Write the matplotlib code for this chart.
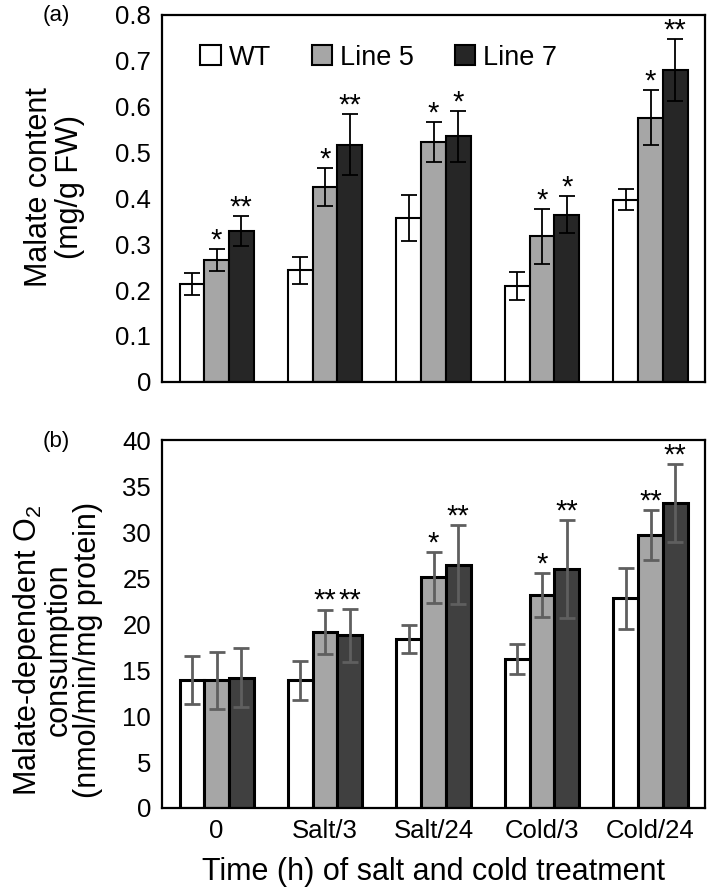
import numpy as np
from matplotlib import pyplot as plt

plt.rcParams['font.family'] = ['Liberation Sans', 'DejaVu Sans']
plt.rcParams['mathtext.fontset'] = 'custom'
plt.rcParams['mathtext.rm'] = 'Liberation Sans'
plt.rcParams['mathtext.default'] = 'regular'

groups = ['0', 'Salt/3', 'Salt/24', 'Cold/3', 'Cold/24']
lines = ['WT', 'Line 5', 'Line 7']

# (a) malate content, mg/g FW
malate = {
    'WT':     [0.214, 0.243, 0.357, 0.209, 0.397],
    'Line 5': [0.265, 0.424, 0.522, 0.317, 0.575],
    'Line 7': [0.329, 0.517, 0.535, 0.364, 0.679],
}
malate_err = {
    'WT':     [0.024, 0.030, 0.050, 0.030, 0.023],
    'Line 5': [0.024, 0.041, 0.044, 0.060, 0.060],
    'Line 7': [0.033, 0.067, 0.055, 0.040, 0.067],
}
malate_sig = {
    'WT':     ['', '', '', '', ''],
    'Line 5': ['*', '*', '*', '*', '*'],
    'Line 7': ['**', '**', '*', '*', '**'],
}

# (b) malate-dependent O2 consumption
oxy = {
    'WT':     [13.9, 13.9, 18.4, 16.2, 22.8],
    'Line 5': [13.9, 19.2, 25.1, 23.2, 29.7],
    'Line 7': [14.2, 18.8, 26.5, 26.0, 33.2],
}
oxy_err = {
    'WT':     [2.6, 2.1, 1.5, 1.6, 3.3],
    'Line 5': [3.1, 2.4, 2.8, 2.4, 2.7],
    'Line 7': [3.2, 2.9, 4.3, 5.3, 4.2],
}
oxy_sig = {
    'WT':     ['', '', '', '', ''],
    'Line 5': ['', '**', '*', '*', '**'],
    'Line 7': ['', '**', '**', '**', '**'],
}

fig = plt.figure(figsize=(7.09, 8.92), dpi=100)
axA = fig.add_axes([0.229, 0.572, 0.765, 0.4115])
axB = fig.add_axes([0.229, 0.0942, 0.765, 0.412])

x = np.arange(len(groups))
w = 0.228


def panel(ax, vals, errs, sigs, colors, ecolor, elw, edgelw, ymax, step, off):
    for i, name in enumerate(lines):
        pos = x + (i - 1)*w
        ax.bar(pos, vals[name], w, color=colors[i], edgecolor='black',
               linewidth=edgelw, label=name, zorder=2)
        ax.errorbar(pos, vals[name], yerr=errs[name], fmt='none',
                    ecolor=ecolor, elinewidth=elw, capsize=6, capthick=elw,
                    zorder=3)
        for p, v, e, s in zip(pos, vals[name], errs[name], sigs[name]):
            if s:
                ax.text(p, v + e + off, s, ha='center', va='bottom',
                        fontsize=21)
    ax.set_xlim(-0.5, len(groups) - 0.5)
    ax.set_ylim(0, ymax)
    ax.set_yticks(np.arange(0, ymax + step/2, step))
    ax.tick_params(length=0, labelsize=18.5, pad=8)
    for sp in ax.spines.values():
        sp.set_linewidth(1.6)


panel(axA, malate, malate_err, malate_sig,
      ['white', '#a6a6a6', '#262626'], 'black', 1.3, 1.5, 0.8, 0.1, -0.012)
axA.set_yticklabels(['0'] + ['%.1f' % v for v in np.arange(0.1, 0.85, 0.1)])
axA.set_xticks([])
axA.set_ylabel('Malate content\n(mg/g FW)', fontsize=22, linespacing=1.05)
axA.yaxis.set_label_coords(-0.142, 0.53)
axA.legend(loc='upper left', bbox_to_anchor=(0.025, 0.985), ncol=3,
           frameon=False, fontsize=19.5, handlelength=0.75, handleheight=0.75,
           handletextpad=0.3, columnspacing=1.5)
fig.text(0.06, 0.983, '(a)', fontsize=16, ha='left', va='center')

panel(axB, oxy, oxy_err, oxy_sig,
      ['white', '#a6a6a6', '#404040'], '#5f5f5f', 2.0, 2.2, 40, 5, -0.6)
axB.set_xticks(x)
axB.set_xticklabels(groups)
axB.set_ylabel('Malate-dependent O$_2$\nconsumption\n(nmol/min/mg protein)',
               fontsize=22, linespacing=0.95)
axB.yaxis.set_label_coords(-0.11, 0.43)
axB.set_xlabel('Time (h) of salt and cold treatment', fontsize=22,
               labelpad=10)
fig.text(0.06, 0.505, '(b)', fontsize=16, ha='left', va='center')

fig.savefig('out.png', dpi=100)
